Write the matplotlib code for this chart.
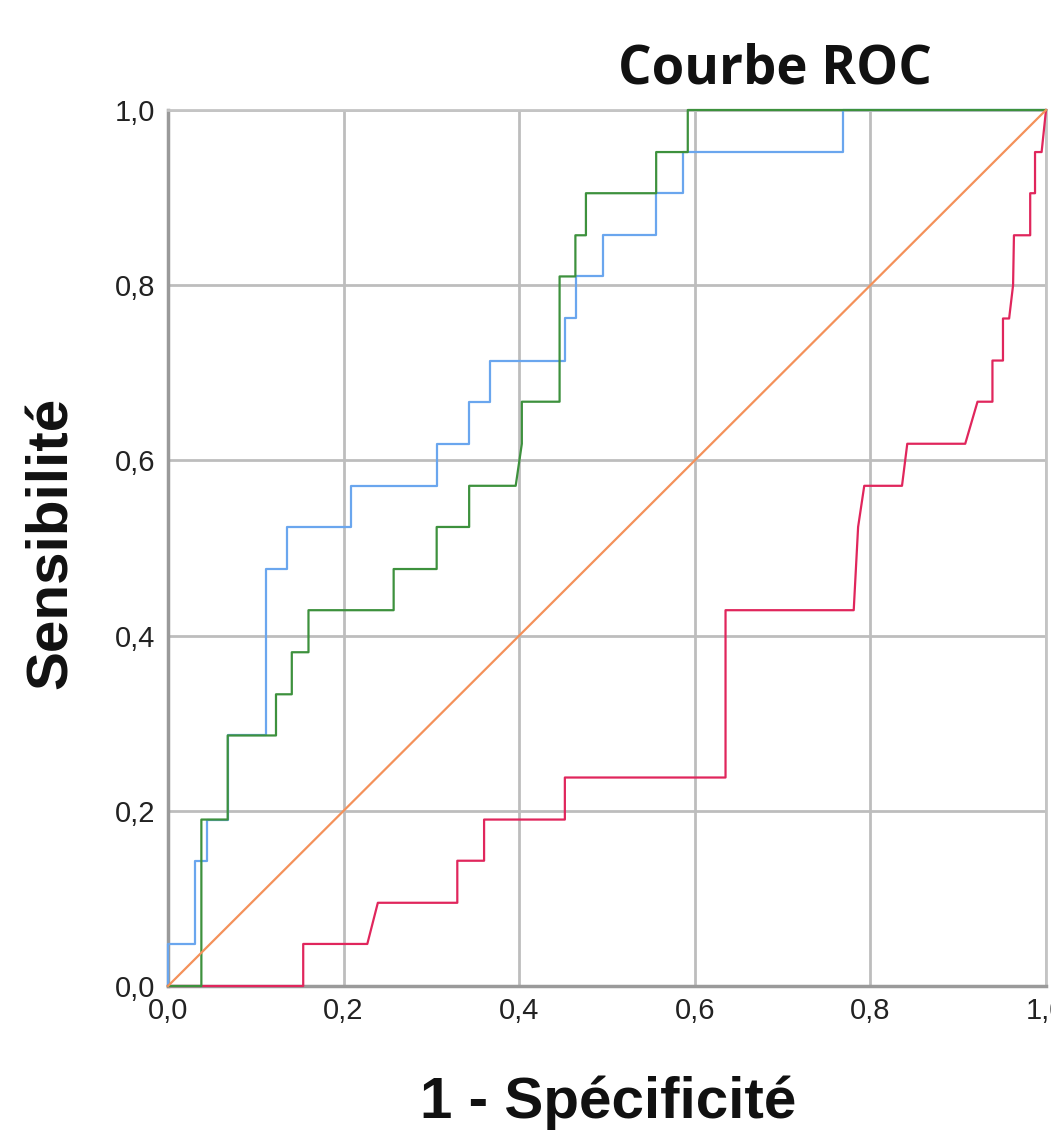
import matplotlib
matplotlib.use("Agg")
import matplotlib.pyplot as plt

# ROC curves: 1 - specificity (x) and sensitivity (y) vertices
blue_fpr = [0, 0, 0.031, 0.031, 0.044, 0.044, 0.068, 0.068, 0.112, 0.112, 0.135, 0.135,
            0.208, 0.208, 0.306, 0.306, 0.343, 0.343, 0.367, 0.367, 0.452, 0.452, 0.465,
            0.465, 0.495, 0.495, 0.556, 0.556, 0.587, 0.587, 0.769, 0.769, 1.0]
blue_tpr = [0, 0.048, 0.048, 0.143, 0.143, 0.190, 0.190, 0.286, 0.286, 0.476, 0.476, 0.524,
            0.524, 0.571, 0.571, 0.619, 0.619, 0.667, 0.667, 0.714, 0.714, 0.762, 0.762,
            0.810, 0.810, 0.857, 0.857, 0.905, 0.905, 0.952, 0.952, 1.0, 1.0]

green_fpr = [0, 0.038, 0.038, 0.068, 0.068, 0.123, 0.123, 0.141, 0.141, 0.160, 0.160, 0.257,
             0.257, 0.306, 0.306, 0.343, 0.343, 0.396, 0.403, 0.403, 0.446, 0.446, 0.464,
             0.464, 0.476, 0.476, 0.556, 0.556, 0.592, 0.592, 1.0]
green_tpr = [0, 0, 0.190, 0.190, 0.286, 0.286, 0.333, 0.333, 0.381, 0.381, 0.429, 0.429,
             0.476, 0.476, 0.524, 0.524, 0.571, 0.571, 0.619, 0.667, 0.667, 0.810, 0.810,
             0.857, 0.857, 0.905, 0.905, 0.952, 0.952, 1.0, 1.0]

red_fpr = [0, 0.154, 0.154, 0.227, 0.239, 0.3295, 0.3295, 0.360, 0.360, 0.452, 0.452, 0.635,
           0.635, 0.781, 0.786, 0.793, 0.836, 0.842, 0.908, 0.922, 0.939, 0.939, 0.951,
           0.951, 0.958, 0.9625, 0.9635, 0.982, 0.982, 0.9875, 0.9875, 0.995, 1.0]
red_tpr = [0, 0, 0.048, 0.048, 0.095, 0.095, 0.143, 0.143, 0.190, 0.190, 0.238, 0.238,
           0.429, 0.429, 0.524, 0.571, 0.571, 0.619, 0.619, 0.667, 0.667, 0.714, 0.714,
           0.762, 0.762, 0.800, 0.857, 0.857, 0.905, 0.905, 0.952, 0.952, 1.0]

ref_line = [0, 1]

ticks = [0.0, 0.2, 0.4, 0.6, 0.8, 1.0]
tick_labels = ["0,0", "0,2", "0,4", "0,6", "0,8", "1,0"]

fig = plt.figure(figsize=(10.51, 11.30), dpi=100)
ax = fig.add_axes([168 / 1051, 1 - 986 / 1130, 878 / 1051, 876 / 1130])

ax.set_xlim(0, 1)
ax.set_ylim(0, 1)
ax.set_xticks(ticks)
ax.set_yticks(ticks)
ax.set_xticklabels(tick_labels, family="Liberation Sans", fontsize=21, color="#222222")
ax.set_yticklabels(tick_labels, family="Liberation Sans", fontsize=21, color="#222222")
ax.tick_params(axis="x", length=0, pad=8)
ax.tick_params(axis="y", length=0, pad=9)
ax.grid(True, color="#bdbdbd", linewidth=2.0)
ax.set_axisbelow(True)

for side in ("top", "right"):
    ax.spines[side].set_color("#c4c4c4")
    ax.spines[side].set_linewidth(2.0)
for side in ("left", "bottom"):
    ax.spines[side].set_color("#9a9a9a")
    ax.spines[side].set_linewidth(2.5)

lw = 1.6
ax.plot(blue_fpr, blue_tpr, color="#6aa6ee", linewidth=lw, clip_on=False, zorder=3)
ax.plot(red_fpr, red_tpr, color="#e0265c", linewidth=lw, clip_on=False, zorder=3)
ax.plot(green_fpr, green_tpr, color="#3d913d", linewidth=lw, clip_on=False, zorder=4)
ax.plot(ref_line, ref_line, color="#f4915a", linewidth=lw, clip_on=False, zorder=5)

fig.text(775 / 1051, 1 - 70 / 1130, "Courbe ROC", family="Open Sans", weight="bold",
         fontsize=38, ha="center", va="center", color="#111111")
fig.text(608 / 1051, 1 - 1103 / 1130, "1 - Spécificité", family="Liberation Sans",
         weight="bold", fontsize=42, ha="center", va="center", color="#111111")
fig.text(52 / 1051, 1 - 543 / 1130, "Sensibilité", family="Liberation Sans",
         weight="bold", fontsize=42, ha="center", va="center", rotation=90, color="#111111")

fig.savefig("out.png", dpi=100)
